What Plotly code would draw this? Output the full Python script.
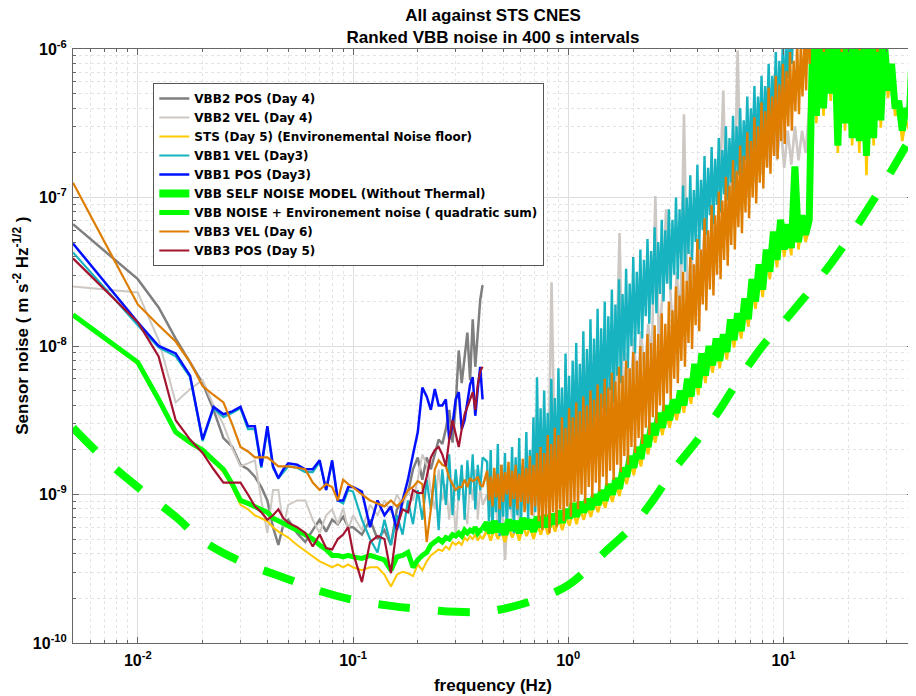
import numpy as np
import plotly.graph_objects as go

# ---------------- frequency grids (Hz) ----------------
# low band: 400 s windows -> 0.0025 Hz bins (sub-sampled above 0.05 Hz)
freq_low = np.concatenate([[0.005],
                           np.arange(0.01, 0.05001, 0.0025),
                           np.arange(0.055, 0.10001, 0.005),
                           np.arange(0.11, 0.40001, 0.01)])
# high band samples (log spaced) and a denser set for the noisiest records
freq_high = np.geomspace(0.42, 40.0, 120)
freq_dense = np.geomspace(0.42, 40.0, 240)

# ---------------- values: log10 of ASD (m s^-2 Hz^-1/2) ----------------
vbb2_pos_low = [-7.18, -7.55, -7.74, -7.95, -8.11, -8.25, -8.43, -8.62, -8.68, -8.80, -8.83, -8.88, -8.95, -9.04, -9.22, -9.34, -9.20, -9.17,
                -9.26, -9.32, -9.24, -9.17, -9.25, -9.17, -9.20, -9.15, -9.22, -9.22,
                -9.27, -9.17, -9.30, -9.24, -9.34, -9.10, -9.04, -8.99, -8.83, -8.75,
                -8.90, -8.75, -8.83, -8.73, -8.63, -8.66, -8.56, -8.43, -8.65, -8.40,
                -8.03, -8.25, -8.09, -7.91, -8.23, -7.82, -8.14, -7.89, -7.69, -7.59]

vbb2_vel_low = [-7.60, -7.64, -7.96, -8.38, -8.29, -8.23, -8.40, -8.53, -8.69, -8.81, -8.79, -8.77, -9.04, -9.26, -8.97, -8.97, -9.22, -9.07,
                -9.04, -9.04, -9.17, -9.26, -9.14, -9.10, -9.20, -9.09, -9.24, -9.14,
                -9.24, -9.07, -9.14, -9.04, -9.12, -9.00, -9.07, -8.98, -9.04, -8.90,
                -8.73, -8.80, -8.97, -9.10, -8.83, -9.04, -8.93, -9.17, -8.90, -9.30,
                -8.97, -8.83, -9.10, -9.20, -8.90, -9.04, -8.83, -9.17, -8.95, -9.07]
vbb2_vel_high = [-9.00, -9.15, -8.95, -9.20, -9.00, -9.44, -8.95, -9.15, -8.85, -9.20,
                 -8.90, -9.10, -8.80, -9.15, -8.75, -9.05, -8.70, -9.00, -7.57, -8.95,
                 -8.62, -8.90, -8.55, -8.85, -8.50, -8.80, -8.45, -8.75, -8.40, -8.70,
                 -8.35, -8.60, -8.30, -8.55, -8.25, -8.50, -8.20, -7.24, -8.40, -8.05,
                 -8.35, -7.95, -8.30, -7.90, -8.20, -7.85, -8.10, -6.99, -8.00, -7.65,
                 -7.08, -7.55, -7.95, -7.50, -7.85, -6.44, -7.75, -7.35, -7.65, -7.25,
                 -7.55, -7.10, -7.50, -7.05, -7.40, -6.95, -6.28, -7.30, -6.85, -7.20,
                 -6.01, -7.10, -6.70, -7.00, -6.60, -6.90, -6.55, -6.85, -6.50, -6.80,
                 -6.45, -6.75, -6.50, -6.80, -6.55, -6.78, -6.52, -6.75, -6.55, -6.70,
                 -6.40, -6.10, -5.80]

sts_low = [-7.80, -8.12, -8.37, -8.59, -8.66, -8.71, -8.78, -8.85, -8.95, -9.07, -9.10, -9.14, -9.16, -9.18, -9.22, -9.25, -9.27, -9.29,
           -9.34, -9.38, -9.42, -9.45, -9.47, -9.49, -9.47, -9.49, -9.47, -9.49,
           -9.51, -9.49, -9.49, -9.54, -9.62, -9.54, -9.52, -9.53, -9.55, -9.47,
           -9.51, -9.45, -9.41, -9.39, -9.37, -9.38, -9.35, -9.37, -9.32, -9.34,
           -9.32, -9.34, -9.29, -9.31, -9.28, -9.30, -9.27, -9.31, -9.28, -9.30]
sts_high = [-9.24, -9.31, -9.23, -9.30, -9.25, -9.32, -9.22, -9.29, -9.23, -9.31,
            -9.21, -9.28, -9.22, -9.30, -9.20, -9.27, -9.19, -9.27, -9.18, -9.25,
            -9.16, -9.24, -9.15, -9.21, -9.11, -9.20, -9.10, -9.17, -9.08, -9.15,
            -9.05, -9.12, -9.02, -9.09, -8.98, -9.05, -8.94, -9.01, -8.87, -8.93,
            -8.79, -8.87, -8.73, -8.81, -8.65, -8.73, -8.57, -8.65, -8.50, -8.60,
            -8.45, -8.55, -8.41, -8.50, -8.35, -8.45, -8.27, -8.39, -8.17, -8.33,
            -8.10, -8.25, -8.05, -8.18, -8.00, -8.15, -7.97, -8.09, -7.87, -8.01,
            -7.83, -7.95, -7.73, -7.87, -7.60, -7.75, -7.50, -7.67, -7.40, -7.55,
            -7.28, -7.47, -7.20, -7.40, -7.23, -7.39, -6.85, -7.35, -7.17, -7.30,
            -7.20, -5.90, -6.50, -5.85, -6.45, -5.95, -6.35, -5.90, -6.70, -5.95,
            -6.55, -5.85, -6.65, -6.00, -6.70, -5.90, -6.85, -5.95, -6.65, -5.90,
            -6.53, -6.00, -6.33, -6.15, -6.45, -6.40, -6.62, -6.48, -6.55, -6.80]

vbb1_vel_low = [-7.37, -7.86, -8.01, -8.07, -8.21, -8.64, -8.42, -8.48, -8.45, -8.42, -8.56, -8.56, -8.82, -8.56, -8.82, -8.89, -8.85, -8.81,
                -8.82, -8.85, -8.85, -8.78, -8.97, -8.78, -9.04, -9.06, -8.97, -8.98,
                -9.17, -9.30, -9.39, -9.17, -9.34, -9.14, -9.27, -9.04, -9.20, -8.97,
                -9.17, -8.90, -9.10, -8.87, -9.24, -8.83, -9.07, -8.73, -9.14, -8.83,
                -9.04, -8.80, -9.17, -8.77, -9.00, -8.73, -9.10, -8.80, -8.97, -8.75]
vbb1_vel_high = [-8.78, -9.18, -8.70, -9.25, -8.85, -9.12, -8.66, -9.28, -8.80, -9.15,
                 -8.72, -9.22, -8.88, -9.10, -8.68, -9.26, -8.75, -9.14, -8.62, -9.20,
                 -8.80, -9.08, -8.58, -9.18, -8.70, -9.05, -8.48, -9.12, -8.21, -8.98,
                 -8.42, -9.02, -8.30, -8.92, -8.45, -8.98, -8.22, -8.85, -8.35, -8.95,
                 -8.15, -8.80, -8.28, -8.90, -8.05, -8.72, -8.20, -8.82, -8.10, -8.68,
                 -7.98, -8.75, -8.12, -8.60, -7.90, -8.70, -8.02, -8.55, -7.82, -8.62,
                 -7.95, -8.48, -7.75, -8.55, -7.88, -8.42, -7.70, -8.50, -7.80, -8.30,
                 -7.62, -8.38, -7.72, -8.20, -7.55, -8.25, -7.65, -8.10, -7.48, -8.15,
                 -7.58, -8.00, -7.40, -8.05, -7.50, -7.92, -7.35, -7.95, -7.42, -7.80,
                 -7.28, -7.85, -7.36, -7.72, -7.20, -7.78, -7.30, -7.65, -7.15, -7.70,
                 -7.22, -7.58, -7.08, -7.62, -7.15, -7.52, -7.00, -7.55, -7.08, -7.45,
                 -6.92, -7.50, -7.00, -7.38, -6.85, -7.42, -6.95, -7.30, -6.78, -7.35,
                 -6.88, -7.22, -6.72, -7.25, -6.80, -7.12, -6.66, -7.18, -6.74, -7.05,
                 -6.60, -7.10, -6.68, -6.98, -6.52, -7.02, -6.60, -6.90, -6.45, -6.95,
                 -6.52, -6.85, -6.40, -6.88, -6.48, -6.75, -6.32, -6.80, -6.40, -6.68,
                 -6.25, -6.72, -6.32, -6.60, -6.18, -6.65, -6.25, -6.52, -6.10, -6.58,
                 -6.18, -6.45, -6.02, -6.48, -6.08, -6.35, -5.95, -6.30, -5.98, -6.20,
                 -5.88, -6.10, -5.80, -5.90]

vbb1_pos_low = [-7.31, -7.84, -8.00, -8.05, -8.20, -8.63, -8.41, -8.46, -8.44, -8.41, -8.54, -8.54, -8.81, -8.54, -8.81, -8.89, -8.83, -8.79,
                -8.80, -8.83, -8.83, -8.77, -8.97, -8.77, -9.04, -9.04, -8.95, -8.95,
                -8.98, -9.22, -9.04, -9.14, -9.08, -9.24, -9.04, -8.90, -8.73, -8.58,
                -8.28, -8.34, -8.43, -8.29, -8.40, -8.40, -8.36, -8.63, -8.53, -8.36,
                -8.31, -8.56, -8.50, -8.36, -8.26, -8.21, -8.47, -8.29, -8.14, -8.36]

model_freq = [0.005, 0.007, 0.01, 0.015, 0.02, 0.03, 0.05, 0.07, 0.1, 0.15,
              0.2, 0.3, 0.4, 0.5, 0.7, 1.0, 1.5, 2.0, 2.5, 3.0,
              4.0, 5.0, 6.0, 8.0, 10.0, 15.0, 20.0, 30.0, 40.0]
model_log = [-8.55, -8.76, -8.95, -9.15, -9.31, -9.45, -9.57, -9.65, -9.71, -9.75,
             -9.77, -9.79, -9.79, -9.77, -9.71, -9.61, -9.38, -9.21, -9.03, -8.86,
             -8.63, -8.44, -8.26, -8.00, -7.84, -7.53, -7.28, -6.88, -6.57]

vbb_env_low = [-7.79, -8.11, -8.36, -8.58, -8.65, -8.70, -8.77, -8.83, -8.93, -9.04, -9.06, -9.08, -9.10, -9.12, -9.16, -9.18, -9.20, -9.21,
               -9.24, -9.27, -9.30, -9.34, -9.37, -9.41, -9.41, -9.42, -9.41, -9.42,
               -9.43, -9.41, -9.43, -9.44, -9.51, -9.42, -9.41, -9.39, -9.49, -9.44,
               -9.41, -9.39, -9.34, -9.32, -9.30, -9.32, -9.29, -9.30, -9.27, -9.28,
               -9.26, -9.28, -9.24, -9.26, -9.24, -9.25, -9.22, -9.26, -9.24, -9.24]
vbb_env_high = [-9.19, -9.26, -9.18, -9.25, -9.20, -9.27, -9.17, -9.24, -9.18, -9.26,
                -9.16, -9.23, -9.17, -9.25, -9.15, -9.22, -9.14, -9.22, -9.13, -9.20,
                -9.11, -9.19, -9.10, -9.16, -9.06, -9.15, -9.05, -9.12, -9.03, -9.10,
                -9.00, -9.07, -8.97, -9.04, -8.93, -9.00, -8.89, -8.96, -8.82, -8.88,
                -8.74, -8.82, -8.68, -8.76, -8.60, -8.68, -8.52, -8.60, -8.45, -8.55,
                -8.40, -8.50, -8.36, -8.45, -8.30, -8.40, -8.22, -8.34, -8.12, -8.28,
                -8.05, -8.20, -8.00, -8.13, -7.95, -8.10, -7.92, -8.04, -7.82, -7.96,
                -7.78, -7.90, -7.68, -7.82, -7.55, -7.70, -7.45, -7.62, -7.35, -7.50,
                -7.23, -7.42, -7.15, -7.35, -7.18, -7.34, -6.79, -7.30, -7.12, -7.25,
                -7.15, -5.85, -6.45, -5.80, -6.40, -5.90, -6.30, -5.85, -6.65, -5.90,
                -6.50, -5.80, -6.60, -5.95, -6.62, -5.85, -6.72, -5.90, -6.60, -5.85,
                -6.48, -5.95, -6.28, -6.10, -6.40, -6.35, -6.55, -6.40, -6.45, -5.90]

vbb3_vel_low = [-6.90, -7.72, -7.86, -7.97, -8.11, -8.27, -8.33, -8.38, -8.53, -8.68, -8.71, -8.75, -8.75, -8.75, -8.78, -8.81, -8.81, -8.81,
                -8.82, -8.83, -8.92, -8.97, -8.93, -8.95, -9.04, -8.90, -8.93, -8.95,
                -9.00, -9.04, -9.06, -9.08, -9.04, -9.08, -9.04, -8.97, -8.95, -8.91,
                -8.93, -9.32, -9.10, -8.83, -8.77, -8.80, -8.81, -8.89, -8.93, -8.97,
                -8.95, -8.95, -8.90, -8.95, -8.89, -8.91, -8.90, -8.88, -8.93, -8.95]
vbb3_vel_high = [-8.84, -9.04, -8.88, -9.08, -8.82, -9.02, -8.86, -9.10, -8.80, -9.05,
                 -8.85, -9.00, -8.78, -9.08, -8.84, -9.03, -8.80, -9.10, -8.86, -9.05,
                 -8.76, -9.12, -8.82, -9.06, -8.74, -9.14, -8.80, -9.08, -8.72, -9.18,
                 -8.68, -9.24, -8.72, -9.15, -8.60, -9.26, -8.66, -9.12, -8.55, -9.22,
                 -8.60, -9.10, -8.48, -9.18, -8.55, -9.08, -8.42, -9.15, -8.48, -9.05,
                 -8.38, -9.10, -8.44, -9.00, -8.34, -9.06, -8.40, -8.95, -8.30, -9.02,
                 -8.36, -8.92, -8.26, -8.98, -8.32, -8.88, -8.22, -8.94, -8.28, -8.84,
                 -8.18, -8.90, -8.24, -8.80, -8.14, -8.85, -8.20, -8.74, -8.10, -8.80,
                 -8.15, -8.68, -8.04, -8.72, -8.10, -8.62, -8.00, -8.66, -8.04, -8.55,
                 -7.92, -8.60, -7.98, -8.48, -7.86, -8.52, -7.92, -8.40, -7.78, -8.44,
                 -7.85, -8.32, -7.70, -8.36, -7.76, -8.22, -7.60, -8.25, -7.66, -8.10,
                 -7.50, -8.14, -7.56, -7.98, -7.40, -8.02, -7.45, -7.86, -7.28, -7.90,
                 -7.35, -7.72, -7.14, -7.76, -7.22, -7.62, -7.05, -7.66, -7.12, -7.52,
                 -6.96, -7.55, -7.02, -7.42, -6.86, -7.46, -6.92, -7.32, -6.75, -7.35,
                 -6.82, -7.20, -6.65, -7.24, -6.72, -7.10, -6.56, -7.14, -6.62, -7.00,
                 -6.46, -7.04, -6.52, -6.90, -6.36, -6.94, -6.42, -6.80, -6.26, -6.84,
                 -6.32, -6.72, -6.18, -6.74, -6.24, -6.62, -6.10, -6.64, -6.15, -6.52,
                 -6.02, -6.55, -6.08, -6.42, -5.95, -6.44, -6.00, -6.32, -5.90, -6.28,
                 -5.80, -6.10, -5.60, -5.92, -5.65, -5.98, -5.58, -5.90, -5.62, -6.02,
                 -5.60, -5.95, -5.66, -5.92, -5.58, -5.98, -5.62, -5.90, -5.60, -6.02,
                 -5.64, -5.94, -5.58, -5.92, -5.62, -5.98, -5.60, -5.90, -5.66, -6.01,
                 -5.58, -5.94, -5.62, -5.92, -5.60, -5.98, -5.64, -5.90, -5.58, -6.02,
                 -5.62, -5.95, -5.60, -5.92, -5.66, -5.98, -5.58, -5.90, -5.62, -5.96,
                 -5.60, -5.92, -5.64, -5.98, -5.58, -5.90, -5.62, -5.94, -5.60, -5.92]

vbb3_pos_low = [-7.41, -7.84, -8.07, -8.50, -8.63, -8.72, -8.83, -8.92, -8.92, -8.92, -9.00, -9.08, -9.12, -9.17, -9.14, -9.10, -9.16, -9.19,
                -9.22, -9.26, -9.35, -9.27, -9.36, -9.37, -9.30, -9.27, -9.22, -9.39,
                -9.59, -9.32, -9.28, -9.30, -9.53, -9.22, -9.10, -9.12, -8.97, -8.99,
                -8.99, -8.88, -8.75, -8.70, -8.68, -8.73, -8.81, -8.63, -8.50, -8.60,
                -8.68, -8.56, -8.46, -8.41, -8.36, -8.31, -8.43, -8.26, -8.17, -8.14]

series_names = ["VBB2 POS (Day 4)", "VBB2 VEL (Day 4)", "STS (Day 5) (Environemental Noise floor)",
                "VBB1 VEL (Day3)", "VBB1 POS (Day3)", "VBB SELF NOISE MODEL (Without Thermal)",
                "VBB NOISE + Environement noise ( quadratic sum)", "VBB3 VEL (Day 6)", "VBB3 POS (Day 5)"]

# (low values, high values, high grid, colour, low width, high width)
series = [
    (vbb2_pos_low, None, None, "#7f7f7f", 2.5, None),
    (vbb2_vel_low, vbb2_vel_high, freq_high, "#cdc8c3", 2.0, 2.6),
    (sts_low, sts_high, freq_high, "#ffc800", 2.0, 2.6),
    (vbb1_vel_low, vbb1_vel_high, freq_dense, "#17b3c0", 2.2, 2.4),
    (vbb1_pos_low, None, None, "#0010ff", 2.5, None),
    (None, None, None, "#00ff00", 8, None),      # self-noise model (dashed)
    (vbb_env_low, vbb_env_high, freq_high, "#00ff00", 5, 7),
    (vbb3_vel_low, vbb3_vel_high, freq_dense, "#de7d00", 2.2, 2.4),
    (vbb3_pos_low, None, None, "#a2142f", 2.2, None),
]

fig = go.Figure()
for i, (name, (low, high, grid, color, w_low, w_high)) in enumerate(zip(series_names, series)):
    grp = f"g{i}"
    if low is None:
        fig.add_trace(go.Scatter(
            x=model_freq, y=10.0 ** np.asarray(model_log), mode="lines", name=name,
            legendgroup=grp,
            line=dict(color=color, width=w_low, dash="32px,28px", shape="spline")))
        continue
    fig.add_trace(go.Scatter(x=freq_low, y=10.0 ** np.asarray(low), mode="lines", name=name,
                             legendgroup=grp, line=dict(color=color, width=w_low)))
    if high is not None:
        fx = np.concatenate([[freq_low[-1]], grid[:len(high)]])
        fy = 10.0 ** np.concatenate([[low[-1]], np.asarray(high)])
        fig.add_trace(go.Scatter(x=fx, y=fy, mode="lines", name=name, legendgroup=grp,
                                 showlegend=False, line=dict(color=color, width=w_high)))

FONT = "Liberation Sans, Arial, Helvetica, sans-serif"
x_minor = [k * 10.0 ** e for e in range(-3, 2) for k in range(2, 10)]
x_minor = [v for v in x_minor if 0.005 <= v <= 40]
y_minor = [k * 10.0 ** e for e in range(-10, -6) for k in range(2, 10)]

axis_common = dict(
    type="log", showline=True, linecolor="#666666", linewidth=1, mirror="allticks",
    ticks="inside", ticklen=6, tickcolor="#666666", showgrid=True,
    gridcolor="#dedede", gridwidth=1, zeroline=False, automargin=False,
    tickfont=dict(family=FONT, size=16, color="black", weight="bold"),
)

fig.update_xaxes(
    **axis_common,
    range=[np.log10(0.005), np.log10(40)],
    tickmode="array", tickvals=[0.01, 0.1, 1, 10],
    ticktext=["10<sup>-2</sup>", "10<sup>-1</sup>", "10<sup>0</sup>", "10<sup>1</sup>"],
    minor=dict(tickmode="array", tickvals=x_minor, ticks="inside", ticklen=3,
               tickcolor="#666666", showgrid=True, gridcolor="#e4e4e4", griddash="dot"),
    title=dict(text="frequency (Hz)", font=dict(family=FONT, size=17, color="black", weight="bold"),
               standoff=10),
    ticklabelstandoff=3,
)
fig.update_yaxes(
    **axis_common,
    range=[-10, -6],
    tickmode="array", tickvals=[1e-10, 1e-9, 1e-8, 1e-7, 1e-6],
    ticktext=["10<sup>-10</sup>", "10<sup>-9</sup>", "10<sup>-8</sup>", "10<sup>-7</sup>", "10<sup>-6</sup>"],
    minor=dict(tickmode="array", tickvals=y_minor, ticks="inside", ticklen=3,
               tickcolor="#666666", showgrid=True, gridcolor="#e4e4e4", griddash="dot"),
    ticklabelstandoff=2,
)

# y-axis title as a rotated annotation (placed as in the reference)
fig.add_annotation(
    text="Sensor noise ( m s<sup>-2</sup> Hz<sup>-1/2</sup> )",
    xref="paper", yref="paper", x=-0.062, y=0.534, xanchor="center", yanchor="middle",
    textangle=-90, showarrow=False,
    font=dict(family=FONT, size=17, color="black", weight="bold"),
)

# The page body has an 8 px margin: the figure is sized / offset to compensate
fig.update_layout(
    width=908, height=688, autosize=False,
    margin=dict(l=65, r=3, t=41, b=52.5),
    paper_bgcolor="white", plot_bgcolor="white",
    title=dict(text="All against STS CNES<br>Ranked VBB noise in 400 s intervals",
               font=dict(family=FONT, size=17, color="black", weight="bold"),
               x=0.5, xref="paper", xanchor="center", y=0.981, yanchor="top", yref="container"),
    legend=dict(x=0.0956, y=0.9428, xanchor="left", yanchor="top",
                bgcolor="white", bordercolor="#555555", borderwidth=1,
                font=dict(family="DejaVu Sans, Verdana, sans-serif", size=12, color="black", weight="bold"),
                tracegroupgap=0, itemwidth=30, groupclick="togglegroup"),
    showlegend=True,
)

fig.write_html("out.html")
